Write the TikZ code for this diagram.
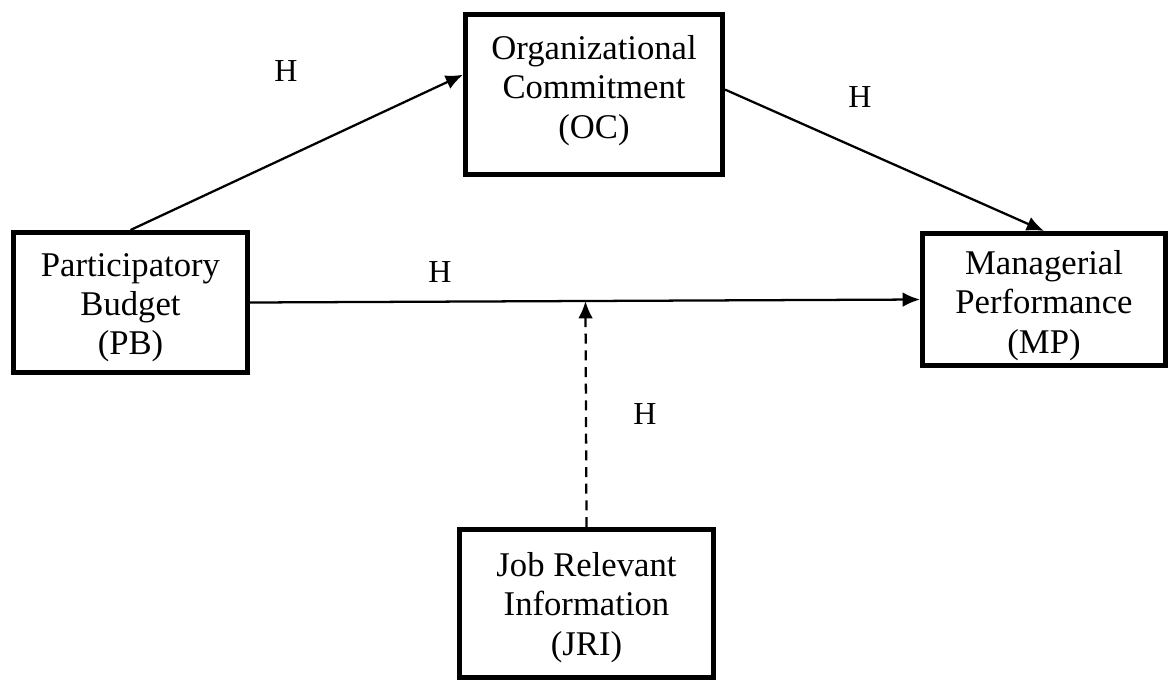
\documentclass[tikz,border=0pt]{standalone}
\usepackage{fontspec}
\setmainfont{Liberation Serif}
\usetikzlibrary{arrows.meta,calc}
\begin{document}
\begin{tikzpicture}[x=0.75pt,y=-0.75pt,
  box/.style={draw=black,line width=3.75pt,rectangle,inner sep=0pt},
  txt/.style={align=center,inner sep=0pt,font=\fontsize{26}{29.5}\selectfont},
  conn/.style={line width=1.7pt,-{Latex[length=13pt,width=11pt]}},
  hlabel/.style={font=\fontsize{24}{28}\selectfont,inner sep=0pt}]
\useasboundingbox (0,0) rectangle (1169,683);
\node[box,minimum width=175.5pt,minimum height=105pt,
  label={[txt,yshift=-4pt]center:{Participatory\\Budget\\(PB)}}] (PB) at (130.5,302.5) {};
\node[box,minimum width=192.75pt,minimum height=120pt,
  label={[txt,yshift=3pt]center:{Organizational\\Commitment\\(OC)}}] (OC) at (594,94.5) {};
\node[box,minimum width=182.25pt,minimum height=99pt,
  label={[txt,yshift=-4.5pt]center:{Managerial\\Performance\\(MP)}}] (MP) at (1044,299.5) {};
\node[box,minimum width=190.5pt,minimum height=111pt,
  label={[txt,yshift=-3pt]center:{Job Relevant\\Information\\(JRI)}}] (JRI) at (586.5,603.5) {};
\coordinate (ocin) at ($(OC.north west)!0.38!(OC.south west)$);
\coordinate (ocout) at ($(OC.north east)!0.47!(OC.south east)$);
\coordinate (mod) at ($(PB.east)!(JRI.north)!(MP.west)$);
\draw[conn] (PB.north) -- (ocin);
\draw[conn] (ocout) -- (MP.north);
\draw[conn] (PB.east) -- (MP.west);
\draw[conn,dash pattern=on 7.5pt off 5pt] (JRI.north) -- (mod);
\node[hlabel] (h1) at (286,71) {H};
\node[hlabel] (h2) at (860,97) {H};
\node[hlabel] (h3) at (440,272) {H};
\node[hlabel] (h4) at (645,414) {H};
\end{tikzpicture}
\end{document}
